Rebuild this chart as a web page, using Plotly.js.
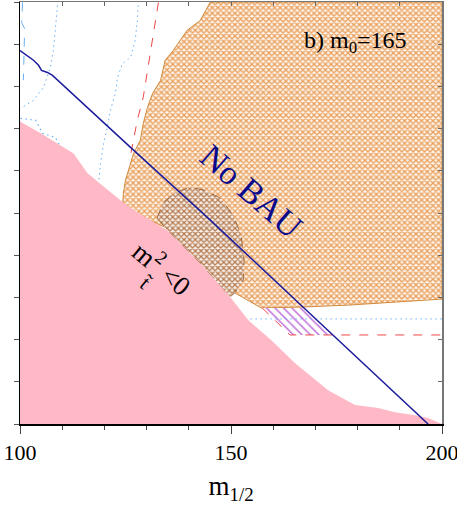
<!DOCTYPE html>
<html><head><meta charset="utf-8">
<script src="https://cdn.plot.ly/plotly-3.0.1.min.js"></script>
<style>html,body{margin:0;padding:0;background:#fff}#chart{width:457px;height:509px}</style>
</head><body><div id="chart"></div>
<script>
// Pink region (stop mass squared < 0) boundary
const pinkX = [100, 104.9, 112.7, 116.0, 123.8, 126.9, 134.9, 142.7, 149.8, 154.1, 159.5, 165.2, 173.0, 179.4, 184.9, 188.9, 193.6, 196.7, 200, 200, 100];
const pinkY = [7.17, 6.89, 6.41, 5.94, 5.30, 5.07, 4.59, 3.81, 3.01, 2.46, 1.99, 1.44, 0.80, 0.45, 0.38, 0.28, 0.21, 0.14, 0, 0, 0];
// Orange hatched region
const orangeX = [145.1, 142.7, 139.6, 136.3, 134.4, 133.3, 131.4, 130.2, 129.2, 128.5, 126.9, 125.7, 125.0, 124.5, 124.3, 127.1, 134.9, 142.7, 149.8, 157.2, 166.4, 178.2, 200, 200, 145.1];
const orangeY = [10, 9.56, 9.33, 8.85, 8.62, 8.14, 7.83, 7.50, 7.12, 6.72, 6.41, 6.01, 5.78, 5.47, 5.16, 4.99, 4.64, 3.93, 3.17, 2.75, 2.77, 2.82, 2.96, 10, 10];
// Brown overlap region
const brownX = [132.5, 133.9, 136.8, 140.4, 143.9, 147.5, 150.5, 152.4, 153.1, 152.9, 151.0, 149.8, 142.7, 134.9, 132.5];
const brownY = [4.88, 5.25, 5.49, 5.61, 5.54, 5.35, 4.95, 4.47, 3.88, 3.41, 3.12, 3.01, 3.81, 4.59, 4.88];
// Purple hatched region
const purpleX = [157.4, 167.3, 174.2, 164.0, 157.4];
const purpleY = [2.75, 2.75, 2.11, 2.11, 2.75];
// Red dashed contour
const redX = [132.8, 132.5, 130.9, 130.2, 129.2, 127.8, 126.9, 126.2, null, 157.4, 164.0, 200];
const redY = [9.99, 9.80, 8.85, 8.38, 7.74, 7.20, 6.72, 6.37, null, 2.75, 2.11, 2.11];
// No BAU boundary (solid blue)
const bauX = [100, 103.2, 104.4, 105.1, 106.5, 107.7, 126.9, 145.1, 167.3, 174.2, 196.7];
const bauY = [8.85, 8.62, 8.50, 8.38, 8.33, 8.26, 6.49, 4.83, 2.75, 2.11, 0.0];
// Light blue dotted contours
const dotAX = [108.9, 107.9, 107.2, 105.6, 103.2, 100.1];
const dotAY = [9.92, 8.85, 8.45, 7.98, 7.67, 7.48];
const dotBX = [128.0, 127.8, 127.3, 126.2, 124.3, 123.1, 122.6, 121.4, 120.7, 119.8, 119.1, 118.6];
const dotBY = [9.92, 9.56, 9.09, 8.69, 8.54, 8.21, 7.83, 7.43, 7.03, 6.65, 6.18, 5.70];
const dotCX = [100.1, 103.7, 105.3, 108.4, 109.6, 112.7];
const dotCY = [7.24, 7.20, 6.89, 6.79, 6.56, 6.37];
const dotDX = [154.6, 200];
const dotDY = [2.49, 2.49];
const dashAX = [100.6, 100.4, 101.1, 100.8];
const dashAY = [9.99, 9.51, 9.37, 8.15];
const xTicks = [100, 150, 200];

const serif = 'Liberation Serif, Times New Roman, serif';
const lightBlue = '#6ab0f5';
const dotted = '1.5px,3.5px';

const traces = [
  {x: orangeX, y: orangeY, mode: 'lines', fill: 'toself', fillcolor: '#ffffff',
   fillpattern: {shape: 'x', fgcolor: '#e9a05c', bgcolor: '#fdf3ea', size: 4, solidity: 0.55},
   line: {color: '#d08a3c', width: 1}, hoverinfo: 'skip'},
  {x: brownX, y: brownY, mode: 'lines', fill: 'toself', fillcolor: '#ffffff',
   fillpattern: {shape: 'x', fgcolor: '#b47c52', bgcolor: '#f8efe8', size: 4, solidity: 0.55},
   line: {color: '#a06a40', width: 1, dash: 'dash'}, hoverinfo: 'skip'},
  {x: purpleX, y: purpleY, mode: 'lines', fill: 'toself', fillcolor: '#ffffff',
   fillpattern: {shape: '\\', fgcolor: '#c070d8', bgcolor: '#ffffff', size: 6, solidity: 0.25},
   line: {width: 0}, hoverinfo: 'skip'},
  {x: dotAX, y: dotAY, mode: 'lines', line: {color: lightBlue, width: 1, dash: dotted}},
  {x: dotBX, y: dotBY, mode: 'lines', line: {color: lightBlue, width: 1, dash: dotted}},
  {x: dotCX, y: dotCY, mode: 'lines', line: {color: lightBlue, width: 1.2, dash: dotted}},
  {x: dotDX, y: dotDY, mode: 'lines', line: {color: lightBlue, width: 1, dash: dotted}},
  {x: dashAX, y: dashAY, mode: 'lines', line: {color: lightBlue, width: 1, dash: 'dash'}},
  {x: redX, y: redY, mode: 'lines', connectgaps: false, line: {color: '#f04848', width: 1, dash: 'dash'}},
  {x: pinkX, y: pinkY, mode: 'lines', fill: 'toself', fillcolor: '#ffb8c6', line: {width: 0}, hoverinfo: 'skip'},
  {x: bauX, y: bauY, mode: 'lines', line: {color: '#1c1c9c', width: 1.5}},
  {x: [null], y: [null], xaxis: 'x2', yaxis: 'y2', mode: 'lines', hoverinfo: 'skip'}
];

const layout = {
  width: 457, height: 509,
  margin: {l: 20, r: 15, t: 2, b: 85},
  paper_bgcolor: '#ffffff', plot_bgcolor: '#ffffff',
  showlegend: false,
  font: {family: serif, color: '#000'},
  xaxis: {range: [100, 200], tickvals: xTicks, ticks: 'outside', ticklen: 8, tickcolor: '#444',
    ticklabeloverflow: 'allow',
    minor: {dtick: 10, tick0: 100, ticks: 'outside', ticklen: 4, tickcolor: '#444', showgrid: false},
    showgrid: false, zeroline: false, showline: true, linecolor: '#000', linewidth: 1.5,
    tickfont: {family: serif, size: 22, color: '#000'},
    title: {text: 'm<sub>1/2</sub>', font: {family: serif, size: 27, color: '#000'}, standoff: 12}},
  yaxis: {range: [0, 10], dtick: 1, ticks: 'outside', ticklen: 5, tickcolor: '#555', showticklabels: false,
    showgrid: false, zeroline: false, showline: true, linecolor: '#000', linewidth: 1.5},
  xaxis2: {overlaying: 'x', matches: 'x', side: 'top', range: [100, 200], dtick: 10, ticks: 'inside', ticklen: 4,
    tickcolor: '#666', showticklabels: false, showgrid: false, zeroline: false, showline: true, linecolor: '#777', linewidth: 1.5},
  yaxis2: {overlaying: 'y', matches: 'y', side: 'right', range: [0, 10], dtick: 1, ticks: 'inside', ticklen: 4,
    tickcolor: '#666', showticklabels: false, showgrid: false, zeroline: false, showline: true, linecolor: '#777', linewidth: 1.5},
  annotations: [
    {x: 179.4, y: 9.05, xref: 'x', yref: 'y', text: 'b) m<sub>0</sub>=165', showarrow: false,
     font: {family: serif, size: 24, color: '#000'}},
    {x: 154.8, y: 5.50, xref: 'x', yref: 'y', text: 'No BAU', showarrow: false, textangle: 41,
     font: {family: serif, size: 34, color: '#0a0a8c'}},
    {x: 133.8, y: 3.72, xref: 'x', yref: 'y', text: 'm<sup>2</sup> <0', showarrow: false, textangle: 40,
     font: {family: serif, size: 27, color: '#000'}},
    {x: 129.8, y: 3.35, xref: 'x', yref: 'y', text: 't&#771;', showarrow: false, textangle: 40,
     font: {family: serif, size: 21, color: '#000'}}
  ]
};

Plotly.newPlot('chart', traces, layout, {staticPlot: true, displayModeBar: false});
</script></body></html>
